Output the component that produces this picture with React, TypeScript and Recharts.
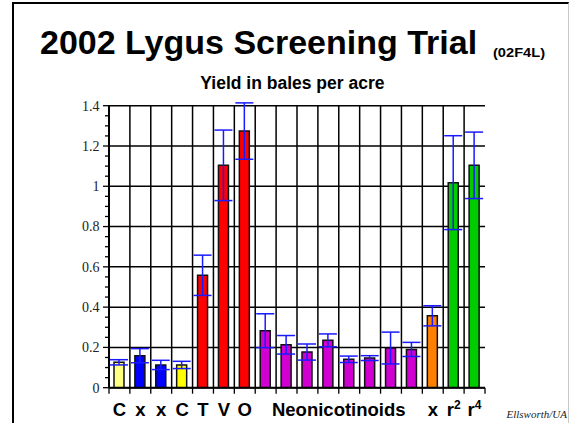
import {
  BarChart,
  Bar,
  Cell,
  XAxis,
  YAxis,
  CartesianGrid,
  ErrorBar,
  ReferenceLine,
} from "recharts";

// treatments, left to right
const treatmentIds = [
  "t1", "t2", "t3", "t4", "t5", "t6", "t7", "t8", "t9",
  "t10", "t11", "t12", "t13", "t14", "t15", "t16", "t17", "t18",
];
const tickLabels = ["C", "x", "x", "C", "T", "V", "O", "", "", "", "", "", "", "", "", "x", "r", "r"];
const tickSups = ["", "", "", "", "", "", "", "", "", "", "", "", "", "", "", "", "2", "4"];

// yield, bales per acre, and error bar half widths
const yieldMeans = [
  0.126, 0.159, 0.113, 0.113, 0.558, 1.104, 1.274, 0.283, 0.213,
  0.177, 0.235, 0.141, 0.147, 0.197, 0.19, 0.357, 1.018, 1.104,
];
const yieldErrors = [
  0.013, 0.035, 0.023, 0.018, 0.1, 0.175, 0.14, 0.084, 0.046,
  0.04, 0.032, 0.016, 0.012, 0.079, 0.035, 0.05, 0.233, 0.165,
];
const barColors = [
  "#ffff80", "#0000ff", "#0000ff", "#ffff00", "#ff0000", "#ff0000", "#ff0000",
  "#d000d0", "#d000d0", "#d000d0", "#d000d0", "#d000d0", "#d000d0", "#d000d0", "#d000d0",
  "#ff8000", "#00cc00", "#00cc00",
];

const groupLabel = "Neonicotinoids";
const groupFirst = 7;
const groupLast = 14;

const yTicks = [
  0, 0.05, 0.1, 0.15, 0.2, 0.25, 0.3, 0.35, 0.4, 0.45, 0.5, 0.55, 0.6, 0.65, 0.7,
  0.75, 0.8, 0.85, 0.9, 0.95, 1, 1.05, 1.1, 1.15, 1.2, 1.25, 1.3, 1.35, 1.4,
];
const yMajor = [0, 0.2, 0.4, 0.6, 0.8, 1, 1.2, 1.4];

const data = treatmentIds.map((id, i) => ({
  id,
  value: yieldMeans[i],
  err: yieldErrors[i],
}));

const sans = "'Liberation Sans', Arial, sans-serif";
const serif = "'Liberation Serif', 'Times New Roman', serif";

function YTick(props: any) {
  const { x, y, payload } = props;
  const v = payload.value;
  const major = yMajor.some((m) => Math.abs(m - v) < 1e-6);
  return (
    <g>
      <line x1={x - (major ? 6 : 4)} x2={x} y1={y} y2={y} stroke="#000" strokeWidth={1.3} />
      {major && (
        <text x={x - 9.5} y={y + 4.8} textAnchor="end" fontFamily={serif} fontSize={14} fill="#222">
          {String(v)}
        </text>
      )}
    </g>
  );
}

function XTick(props: any) {
  const { x, y, payload } = props;
  const i = payload.index;
  const half = payload.offset ?? 10.44;
  const left = payload.coordinate - half;
  return (
    <g>
      <line x1={left} x2={left} y1={y} y2={y + 6} stroke="#000" strokeWidth={1.3} />
      {i === treatmentIds.length - 1 && (
        <line x1={left + 2 * half} x2={left + 2 * half} y1={y} y2={y + 6} stroke="#000" strokeWidth={1.3} />
      )}
      {tickLabels[i] && (
        <text x={x} y={y + 28.5} textAnchor="middle" fontFamily={sans} fontWeight="bold" fontSize={18.5} fill="#000">
          {tickLabels[i]}
          {tickSups[i] && (
            <tspan fontSize={12} dy={-7}>
              {tickSups[i]}
            </tspan>
          )}
        </text>
      )}
      {i === groupFirst && (
        <text
          x={left + (groupLast - groupFirst + 1) * half}
          y={y + 28.5}
          textAnchor="middle"
          fontFamily={sans}
          fontWeight="bold"
          fontSize={18.5}
          fill="#000"
        >
          {groupLabel}
        </text>
      )}
    </g>
  );
}

export default function App() {
  return (
    <div style={{ position: "absolute", left: 0, top: 0, width: 571, height: 423, background: "#fff", overflow: "hidden" }}>
      <div
        style={{
          position: "absolute",
          left: 12,
          top: 2,
          width: 554,
          height: 430,
          borderLeft: "2px solid #000",
          borderTop: "2px solid #000",
          borderRight: "1px solid #c8c8c8",
        }}
      />
      <div style={{ position: "absolute", left: 0, top: 0 }}>
        <BarChart
          width={571}
          height={423}
          data={data}
          margin={{ top: 105.7, right: 86, bottom: 0, left: 0 }}
        >
          <CartesianGrid vertical={false} horizontalValues={yMajor} stroke="#000" strokeWidth={1.5} />
          {treatmentIds.map((id) => (
            <ReferenceLine key={id} x={id} position="start" stroke="#000" strokeWidth={1.5} />
          ))}
          <ReferenceLine x={treatmentIds[treatmentIds.length - 1]} position="end" stroke="#000" strokeWidth={2} />
          <XAxis
            dataKey="id"
            height={35.3}
            interval={0}
            tickLine={false}
            tickSize={0}
            tickMargin={0}
            tick={<XTick />}
            axisLine={{ stroke: "#000", strokeWidth: 2 }}
          />
          <YAxis
            width={109}
            domain={[0, 1.4]}
            allowDataOverflow
            ticks={yTicks}
            interval={0}
            tickLine={false}
            tickSize={0}
            tickMargin={0}
            tick={<YTick />}
            axisLine={{ stroke: "#000", strokeWidth: 2 }}
          />
          <Bar dataKey="value" barSize={10} stroke="#111" strokeWidth={1.5} isAnimationActive={false}>
            {data.map((d, i) => (
              <Cell key={d.id} fill={barColors[i]} />
            ))}
            <ErrorBar dataKey="err" width={9} stroke="#1a1aff" strokeWidth={1.5} />
          </Bar>
        </BarChart>
      </div>
      <svg width={571} height={423} style={{ position: "absolute", left: 0, top: 0, pointerEvents: "none" }}>
        <text x={40} y={54.3} fontFamily={sans} fontWeight="bold" fontSize={34} fill="#000">
          2002 Lygus Screening Trial
        </text>
        <text x={493} y={56.7} fontFamily={sans} fontWeight="bold" fontSize={12.5} fill="#000" textLength={52} lengthAdjust="spacingAndGlyphs">
          (02F4L)
        </text>
        <text x={292.4} y={89.3} textAnchor="middle" fontFamily={sans} fontWeight="bold" fontSize={17.5} fill="#000">
          Yield in bales per acre
        </text>
        <text x={567} y={418} textAnchor="end" fontFamily={serif} fontStyle="italic" fontSize={11} fill="#222">
          Ellsworth/UA
        </text>
      </svg>
    </div>
  );
}
